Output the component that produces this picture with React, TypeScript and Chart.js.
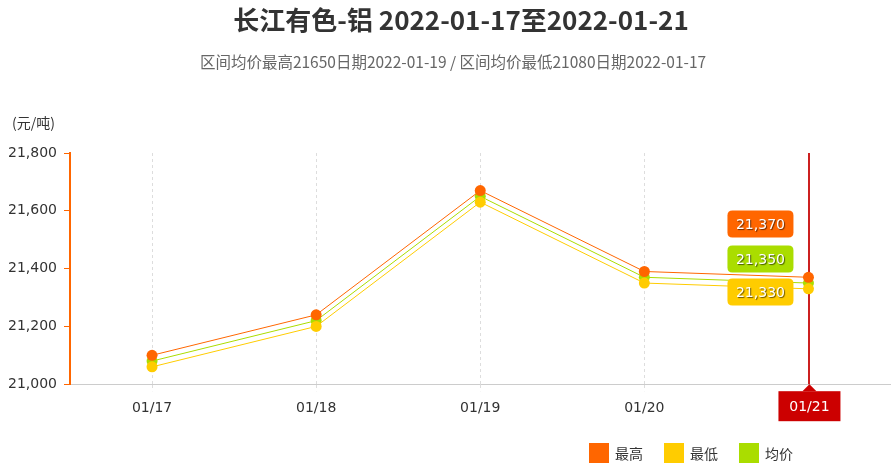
import React, { useEffect, useRef } from 'react';
import { Chart, registerables } from 'chart.js';

Chart.register(...registerables);

const categories = ['01/17', '01/18', '01/19', '01/20', '01/21'];
const highValues = [21100, 21240, 21670, 21390, 21370];
const lowValues = [21060, 21200, 21630, 21350, 21330];
const avgValues = [21080, 21220, 21650, 21370, 21350];
const seriesNames = ['最高', '最低', '均价'];
const seriesColors = ['#FF6600', '#FFCC00', '#AADD00'];

const titleText = '长江有色-铝 2022-01-17至2022-01-21';
const subtitleText = '区间均价最高21650日期2022-01-19 / 区间均价最低21080日期2022-01-17';
const unitText = '(元/吨)';

const CJK = '"Noto Sans CJK SC", "Noto Sans", sans-serif';
const TICK_FONT = '"DejaVu Sans", Verdana, sans-serif';

const fmt = (v: number) => v.toLocaleString('en-US');

function roundRect(ctx: CanvasRenderingContext2D, x: number, y: number, w: number, h: number, r: number) {
  ctx.beginPath();
  ctx.moveTo(x + r, y);
  ctx.lineTo(x + w - r, y);
  ctx.quadraticCurveTo(x + w, y, x + w, y + r);
  ctx.lineTo(x + w, y + h - r);
  ctx.quadraticCurveTo(x + w, y + h, x + w - r, y + h);
  ctx.lineTo(x + r, y + h);
  ctx.quadraticCurveTo(x, y + h, x, y + h - r);
  ctx.lineTo(x, y + r);
  ctx.quadraticCurveTo(x, y, x + r, y);
  ctx.closePath();
}

const decorPlugin = {
  id: 'decor',
  beforeDatasetsDraw(chart: any) {
    const { ctx, chartArea, scales } = chart;
    const last = categories.length - 1;
    const x = Math.round(scales.x.getPixelForValue(last)) + 1;
    ctx.save();
    ctx.setLineDash([]);
    ctx.strokeStyle = '#CC2020';
    ctx.lineWidth = 2;
    ctx.beginPath();
    ctx.moveTo(x, chartArea.top);
    ctx.lineTo(x, chartArea.bottom);
    ctx.stroke();
    ctx.restore();
  },
  afterDraw(chart: any) {
    const { ctx, chartArea, scales, width } = chart;
    const last = categories.length - 1;
    const x = scales.x.getPixelForValue(last);
    ctx.save();

    // title + subtitle + unit
    ctx.textAlign = 'center';
    ctx.textBaseline = 'middle';
    ctx.fillStyle = '#333333';
    ctx.font = `bold 26px ${CJK}`;
    ctx.fillText(titleText, width / 2 + 13, 20);
    ctx.fillStyle = '#666666';
    ctx.font = `15.5px ${CJK}`;
    ctx.fillText(subtitleText, width / 2 + 5, 62);
    ctx.textAlign = 'left';
    ctx.fillStyle = '#333333';
    ctx.font = `14px ${CJK}`;
    ctx.fillText(unitText, 12, 123);

    // red x label for the last category
    const boxW = 62;
    const boxH = 30;
    const by = chartArea.bottom + 7;
    ctx.fillStyle = '#CC0000';
    ctx.beginPath();
    ctx.moveTo(x - 6, by);
    ctx.lineTo(x + 1, by - 7);
    ctx.lineTo(x + 8, by);
    ctx.closePath();
    ctx.fill();
    ctx.fillRect(x + 1 - boxW / 2, by, boxW, boxH);
    ctx.fillStyle = '#ffffff';
    ctx.textAlign = 'center';
    ctx.font = `14px ${TICK_FONT}`;
    ctx.fillText(categories[last], x + 1, by + boxH / 2 + 1);

    // value labels
    const values = [highValues[last], avgValues[last], lowValues[last]];
    const colors = [seriesColors[0], seriesColors[2], seriesColors[1]];
    const midY = scales.y.getPixelForValue(avgValues[last]) - 24;
    const offsets = [-35, 0, 33];
    const lw = 66;
    const lh = 27;
    values.forEach((v, i) => {
      const cy = midY + offsets[i];
      const lx = x - 15 - lw;
      ctx.fillStyle = colors[i];
      roundRect(ctx, lx, cy - lh / 2, lw, lh, 5);
      ctx.fill();
      ctx.save();
      ctx.shadowColor = 'rgba(0,0,0,0.6)';
      ctx.shadowOffsetX = 1;
      ctx.shadowOffsetY = 1;
      ctx.shadowBlur = 1;
      ctx.fillStyle = '#ffffff';
      ctx.font = `14px ${TICK_FONT}`;
      ctx.textAlign = 'center';
      ctx.fillText(fmt(v), lx + lw / 2, cy + 1);
      ctx.restore();
    });

    // legend
    ctx.font = `14px ${CJK}`;
    ctx.textAlign = 'left';
    const sq = 20;
    const gap = 6;
    const itemGap = 21;
    const widths = seriesNames.map((n) => sq + gap + ctx.measureText(n).width);
    const total = widths.reduce((a, b) => a + b, 0) + itemGap * (widths.length - 1);
    let lx = width - 103 - total;
    const ly = 443;
    seriesNames.forEach((n, i) => {
      ctx.fillStyle = seriesColors[i];
      ctx.fillRect(lx, ly, sq, sq);
      ctx.fillStyle = '#333333';
      ctx.fillText(n, lx + sq + gap, ly + sq / 2 + 1);
      lx += widths[i] + itemGap;
    });
    ctx.restore();
  },
};

const App: React.FC = () => {
  const chartRef = useRef<HTMLCanvasElement>(null);
  const chartInstance = useRef<Chart | null>(null);

  useEffect(() => {
    if (!chartRef.current) return;
    if (chartInstance.current) chartInstance.current.destroy();
    const ctx = chartRef.current.getContext('2d');
    if (!ctx) return;

    const seriesData = [highValues, lowValues, avgValues];

    chartInstance.current = new Chart(ctx, {
      type: 'line',
      data: {
        labels: categories,
        datasets: seriesNames.map((name, i) => ({
          label: name,
          data: seriesData[i],
          borderColor: seriesColors[i],
          backgroundColor: seriesColors[i],
          pointBackgroundColor: seriesColors[i],
          pointBorderWidth: 0,
          pointRadius: 5.5,
          borderWidth: 1,
          tension: 0,
          fill: false,
        })),
      },
      options: {
        animation: false,
        responsive: true,
        maintainAspectRatio: false,
        layout: { padding: { top: 153, right: 2, bottom: 43, left: 0 } },
        plugins: {
          legend: { display: false },
          tooltip: { enabled: false },
          title: { display: false },
        },
        scales: {
          x: {
            offset: true,
            grid: {
              color: '#dddddd',
              tickLength: 7,
              tickBorderDash: [3, 3],
            },
            border: { color: '#cccccc', dash: [3, 3] },
            ticks: {
              color: '#333333',
              font: { family: TICK_FONT, size: 14 },
              padding: 9,
            },
          },
          y: {
            min: 21000,
            max: 21800,
            afterFit: (s: any) => {
              s.width = 70;
            },
            grid: {
              drawOnChartArea: false,
              color: '#FF6600',
              tickLength: 6,
            },
            border: { color: '#FF6600', width: 2 },
            ticks: {
              stepSize: 200,
              color: '#333333',
              font: { family: TICK_FONT, size: 14 },
              padding: 7,
              callback: (v: any) => fmt(Number(v)),
            },
          },
        },
      },
      plugins: [decorPlugin],
    });

    return () => {
      if (chartInstance.current) {
        chartInstance.current.destroy();
        chartInstance.current = null;
      }
    };
  }, []);

  return (
    <div style={{ position: 'fixed', left: 0, top: 0, width: 896, height: 469, background: '#fff' }}>
      <canvas ref={chartRef}></canvas>
    </div>
  );
};

export default App;
